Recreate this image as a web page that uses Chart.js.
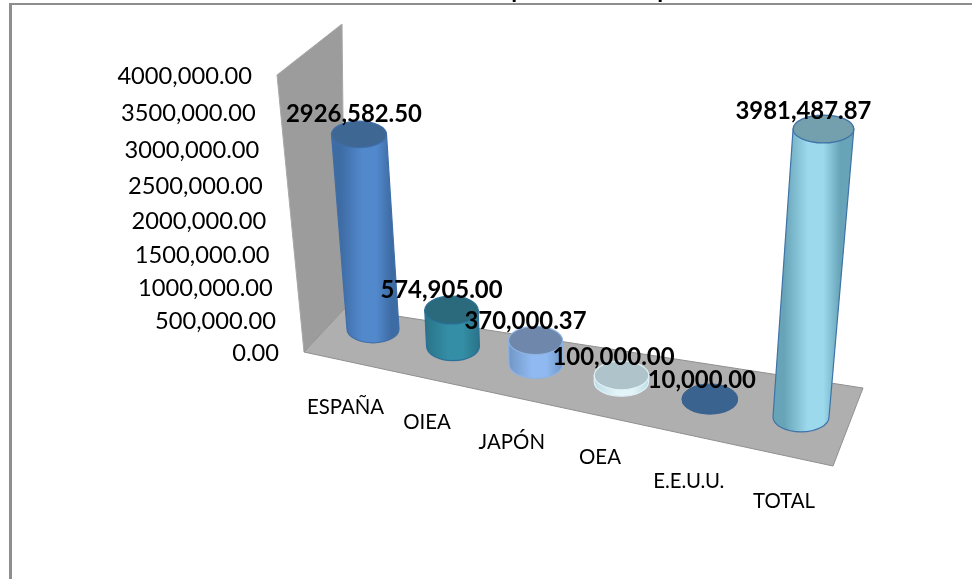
<!DOCTYPE html>
<html lang="es">
<head>
<meta charset="utf-8">
<title>Cooperación</title>
<style>
	html, body { margin: 0; padding: 0; background: #fff; }
	#wrap { position: relative; width: 972px; height: 579px; overflow: hidden; }
</style>
<script src="https://cdn.jsdelivr.net/npm/chart.js@4/dist/chart.umd.min.js"></script>
</head>
<body>
<div id="wrap"><canvas id="chart" width="972" height="579"></canvas></div>
<script>
// ── Data ──────────────────────────────────────────────────────────────────────

const categories = ['ESPAÑA', 'OIEA', 'JAPÓN', 'OEA', 'E.E.U.U.', 'TOTAL'];
const amounts = [2926582.5, 574905.0, 370000.37, 100000.0, 10000.0, 3981487.87];
const axisMax = 4000000;
const axisStep = 500000;

// Body colour, lit centre, cap and outline of every cylinder.
const bodyColors = ['#3d6ba3', '#2b7488', '#7297c6', '#bcdce6', '#3b6390', '#68a4b8'];
const lightColors = ['#5288cc', '#338ea6', '#8fb9f0', '#e4f5fa', '#3b6390', '#9cd9ec'];
const capColors = ['#3f6794', '#2b6a7c', '#6e87ab', '#aec4ca', '#3b6390', '#749fac'];
const edgeColors = ['#3f6ea8', '#2b6f9a', '#8db3e2', '#dff1f6', '#3b6390', '#3f72a8'];

// Hand placement of the value labels relative to the cap (they were moved in the original).
const labelNudgeX = [-5, -10, -10, -8, -8, -20];
const labelNudgeY = [-20, -20, -19, -18, -18, -18];

// Category labels hang below the floor, staggered by hand too.
const catNudgeX = [-27.5, -26, -24, -21.4, -21, -17];
const catNudgeY = [78, 76, 78, 76, 82, 84];

// ── 3D view helpers ───────────────────────────────────────────────────────────

const WALL = [[277, 75], [342, 24], [345, 308], [304, 352]];
const FLOOR = [[304, 352], [345, 308], [863, 388], [833, 466]];

// Excel style number: only the last thousands group gets a comma.
function fmtAmount(n) {
	const [whole, dec] = Number(n).toFixed(2).split('.');
	if (whole.length <= 3) return whole + '.' + dec;
	return whole.slice(0, -3) + ',' + whole.slice(-3) + '.' + dec;
}

// Value axis is foreshortened: the top of the wall has wider tick gaps.
function warpFraction(p) {
	return 0.906 * p + 0.094 * p * p;
}

// Height in pixels along the wall for a y scale pixel.
function wallRise(yScale, px) {
	const p = (yScale.bottom - px) / (yScale.bottom - yScale.top);
	return warpFraction(p) * (yScale.bottom - yScale.top);
}

// Slot number on the floor for an x scale pixel.
function slotOf(xScale, px) {
	return ((px - xScale.left) / (xScale.right - xScale.left)) * categories.length - 0.5;
}

function floorX(u) {
	return 373 + 78.6 * u + 1.4 * u * u;
}

function floorY(u) {
	return 329 + 17.6 * u;
}

function polygon(ctx, pts, fill, stroke) {
	ctx.beginPath();
	pts.forEach((p, i) => (i ? ctx.lineTo(p[0], p[1]) : ctx.moveTo(p[0], p[1])));
	ctx.closePath();
	ctx.fillStyle = fill;
	ctx.fill();
	ctx.strokeStyle = stroke;
	ctx.lineWidth = 1;
	ctx.stroke();
}

function drawCylinder(ctx, chart, bar, i) {
	const xScale = chart.scales.x;
	const yScale = chart.scales.y;
	const u = slotOf(xScale, bar.x);
	const rise = wallRise(yScale, bar.y) * (0.985 + 0.012 * u);
	const frac = rise / 288;

	const bx = floorX(u);
	const by = floorY(u);
	const tx = bx + (-0.072 + 0.03 * u) * rise;
	const ty = by - rise;
	const brx = 26 + 0.4 * u;
	const trx = brx * (1 + 0.085 * frac);
	const bry = brx * 0.53;
	const tryy = trx * (0.53 - 0.07 * frac);

	// Body
	const grad = ctx.createLinearGradient((bx + tx) / 2 - brx, 0, (bx + tx) / 2 + brx, 0);
	grad.addColorStop(0, bodyColors[i]);
	grad.addColorStop(0.42, lightColors[i]);
	grad.addColorStop(0.7, lightColors[i]);
	grad.addColorStop(1, bodyColors[i]);
	ctx.beginPath();
	ctx.moveTo(tx - trx, ty);
	ctx.lineTo(bx - brx, by);
	ctx.ellipse(bx, by, brx, bry, 0, Math.PI, 0, true);
	ctx.lineTo(tx + trx, ty);
	ctx.closePath();
	ctx.fillStyle = grad;
	ctx.fill();
	ctx.strokeStyle = edgeColors[i];
	ctx.lineWidth = 1.2;
	ctx.stroke();

	// Cap
	ctx.beginPath();
	ctx.ellipse(tx, ty, trx, tryy, 0, 0, Math.PI * 2);
	ctx.fillStyle = capColors[i];
	ctx.fill();
	ctx.stroke();
}

// ── Plugin: draws the box, the cylinders and all labels in perspective ────────

const perspective3d = {
	id: 'perspective3d',
	beforeDatasetsDraw(chart) {
		const ctx = chart.ctx;
		ctx.save();
		// Frame of the embedded chart, cut off by the crop.
		ctx.fillStyle = '#8e8e8e';
		ctx.fillRect(9, 3, 963, 2);
		ctx.fillRect(9, 3, 3, 576);
		// Only the descenders of the cropped title are still visible.
		ctx.fillStyle = '#000';
		ctx.font = 'bold 24px Lato';
		ctx.textAlign = 'center';
		ctx.textBaseline = 'alphabetic';
		ctx.fillText('p', 518, -2);
		ctx.fillText('p', 664, -2);

		polygon(ctx, WALL, '#9c9c9c', '#a8a8a8');
		polygon(ctx, FLOOR, '#afafaf', '#8f8f8f');
		ctx.restore();
	},
	afterDatasetsDraw(chart) {
		const ctx = chart.ctx;
		const xScale = chart.scales.x;
		const yScale = chart.scales.y;
		const bars = chart.getDatasetMeta(0).data;

		ctx.save();
		bars.forEach((bar, i) => drawCylinder(ctx, chart, bar, i));

		// Value axis labels walk along the slanted wall edge.
		ctx.fillStyle = '#000';
		ctx.textBaseline = 'middle';
		ctx.textAlign = 'right';
		ctx.font = '23.7px Lato';
		yScale.ticks.forEach((tick, i) => {
			const rise = wallRise(yScale, yScale.getPixelForTick(i));
			ctx.fillText(fmtAmount(tick.value), 279 - rise * 0.0975, yScale.bottom - rise + 1);
		});

		// Category labels
		ctx.textAlign = 'center';
		ctx.font = '20.4px Lato';
		bars.forEach((bar, i) => {
			const u = slotOf(xScale, bar.x);
			ctx.fillText(categories[i], floorX(u) + catNudgeX[i], floorY(u) + catNudgeY[i]);
		});

		// Value labels sit on top of everything.
		ctx.font = 'bold 23.9px Lato';
		bars.forEach((bar, i) => {
			const u = slotOf(xScale, bar.x);
			const rise = wallRise(yScale, bar.y) * (0.985 + 0.012 * u);
			const capX = floorX(u) + (-0.072 + 0.03 * u) * rise;
			ctx.fillText(fmtAmount(amounts[i]), capX + labelNudgeX[i], floorY(u) - rise + labelNudgeY[i]);
		});
		ctx.restore();
	},
};

// ── Chart ─────────────────────────────────────────────────────────────────────

new Chart(document.getElementById('chart'), {
	type: 'bar',
	data: {
		labels: categories,
		datasets: [
			{
				data: amounts,
				backgroundColor: 'rgba(0,0,0,0)',
				borderWidth: 0,
			},
		],
	},
	options: {
		responsive: false,
		animation: false,
		events: [],
		layout: { padding: { left: 280, right: 112, top: 75, bottom: 227 } },
		plugins: {
			legend: { display: false },
			title: { display: false },
			tooltip: { enabled: false },
		},
		scales: {
			x: {
				grid: { display: false },
				border: { display: false },
				ticks: { display: false },
				afterFit: (scale) => { scale.height = 0; },
			},
			y: {
				min: 0,
				max: axisMax,
				grid: { display: false },
				border: { display: false },
				ticks: { display: false, stepSize: axisStep },
				afterFit: (scale) => { scale.width = 0; },
			},
		},
	},
	plugins: [perspective3d],
});
</script>
</body>
</html>
